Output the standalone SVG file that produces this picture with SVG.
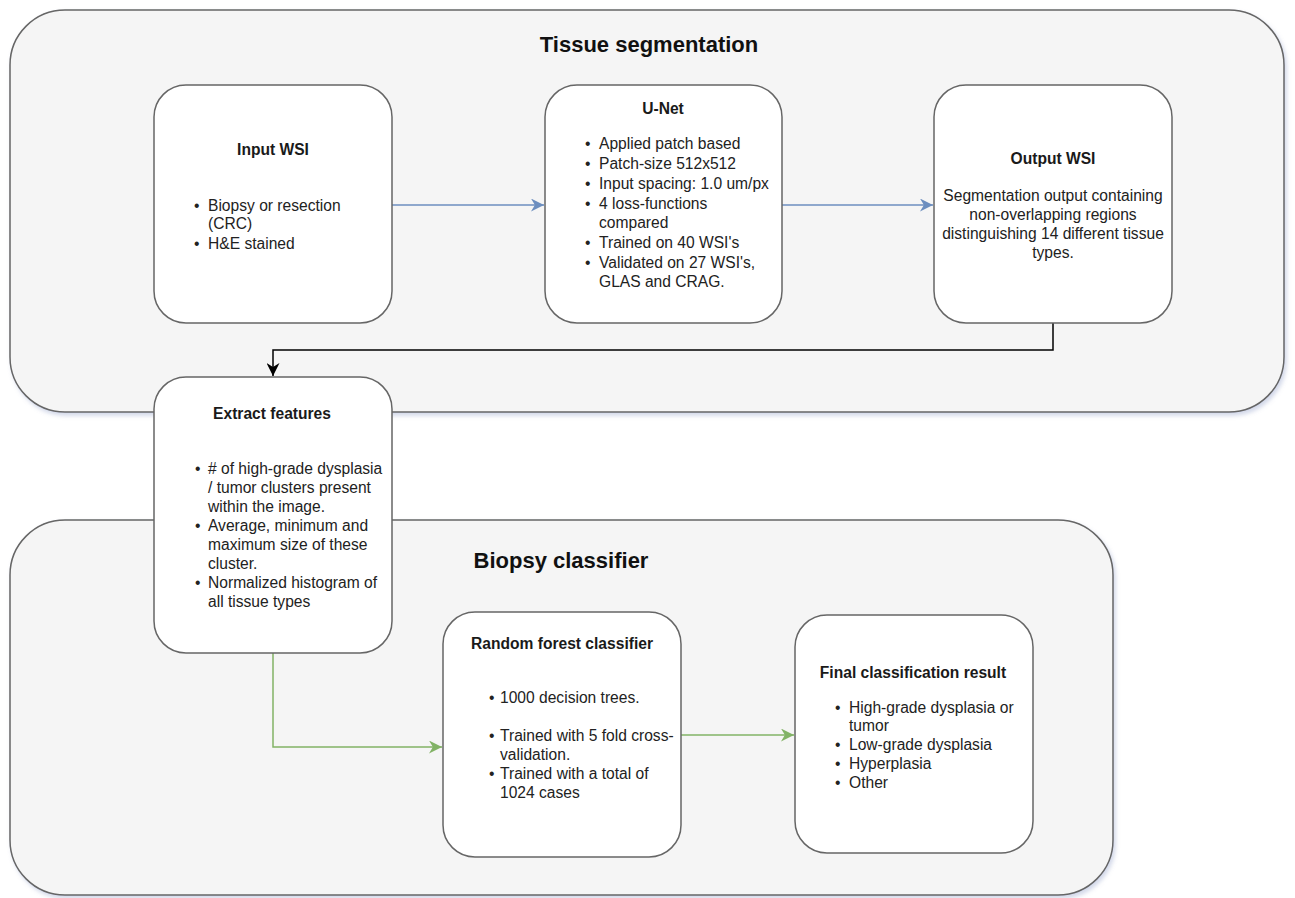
<svg xmlns="http://www.w3.org/2000/svg" width="1295" height="898" viewBox="0 0 1295 898">
<defs>
<style>
.cont{fill:#f5f5f5;stroke:#666;stroke-width:1.5}
.node{fill:#fff;stroke:#666;stroke-width:1.5}
.h1{font-family:"Liberation Sans",Arial,sans-serif;font-size:22px;font-weight:bold;fill:#111;text-anchor:middle}
.h2{font-family:"Liberation Sans",Arial,sans-serif;font-size:15.6px;font-weight:bold;fill:#1a1a1a;text-anchor:middle}
.t{font-family:"Liberation Sans",Arial,sans-serif;font-size:15.6px;fill:#222}
.c{text-anchor:middle}
.blue{fill:none;stroke:#6c8ebf;stroke-width:1.5}
.green{fill:none;stroke:#82b366;stroke-width:1.5}
.black{fill:none;stroke:#000;stroke-width:1.5}
</style>
<filter id="sh" x="-5%" y="-5%" width="110%" height="115%">
<feGaussianBlur in="SourceAlpha" stdDeviation="2"/>
<feOffset dx="2" dy="3" result="b"/>
<feFlood flood-color="#8090c0" flood-opacity="0.35"/>
<feComposite in2="b" operator="in"/>
<feMerge><feMergeNode/><feMergeNode in="SourceGraphic"/></feMerge>
</filter>
<marker id="ab" viewBox="0 0 10 10" refX="10" refY="5" markerWidth="13" markerHeight="13" markerUnits="userSpaceOnUse" orient="auto"><path d="M0,0 L10,5 L0,10 L3,5 Z" fill="#6c8ebf"/></marker>
<marker id="ag" viewBox="0 0 10 10" refX="10" refY="5" markerWidth="13" markerHeight="13" markerUnits="userSpaceOnUse" orient="auto"><path d="M0,0 L10,5 L0,10 L3,5 Z" fill="#82b366"/></marker>
<marker id="ak" viewBox="0 0 10 10" refX="10" refY="5" markerWidth="13" markerHeight="13" markerUnits="userSpaceOnUse" orient="auto"><path d="M0,0 L10,5 L0,10 L3,5 Z" fill="#000"/></marker>
</defs>
<rect width="1295" height="898" fill="#fff"/>

<g id="tissue-segmentation">
<rect class="cont" x="10" y="10" width="1274" height="402" rx="55" filter="url(#sh)"/>
<text class="h1" x="649" y="52">Tissue segmentation</text>
</g>
<g id="biopsy-classifier">
<rect class="cont" x="10" y="520" width="1103" height="375" rx="55" filter="url(#sh)"/>
<text class="h1" x="561" y="568">Biopsy classifier</text>
</g>

<g id="connectors">
<path class="blue" d="M392,205 H544" marker-end="url(#ab)"/>
<path class="blue" d="M782,205 H933" marker-end="url(#ab)"/>
<path class="black" d="M1053,323 V350 H273 V376" marker-end="url(#ak)"/>
<path class="green" d="M273,653 V747 H442" marker-end="url(#ag)"/>
<path class="green" d="M681,735 H794" marker-end="url(#ag)"/>
</g>

<g id="input-wsi">
<rect class="node" x="154" y="85" width="238" height="238" rx="32"/>
<text class="h2" x="273" y="155">Input WSI</text>
<text class="t"><tspan x="194" y="210.5">•</tspan><tspan x="208" y="210.5">Biopsy or resection</tspan><tspan x="208" y="229">(CRC)</tspan><tspan x="194" y="249">•</tspan><tspan x="208" y="249">H&amp;E stained</tspan></text>
</g>

<g id="u-net">
<rect class="node" x="545" y="85" width="237" height="238" rx="32"/>
<text class="h2" x="663" y="113.5">U-Net</text>
<text class="t"><tspan x="585" y="148.5">•</tspan><tspan x="599" y="148.5">Applied patch based</tspan><tspan x="585" y="168.5">•</tspan><tspan x="599" y="168.5">Patch-size 512x512</tspan><tspan x="585" y="188.5">•</tspan><tspan x="599" y="188.5">Input spacing: 1.0 um/px</tspan><tspan x="585" y="208.5">•</tspan><tspan x="599" y="208.5">4 loss-functions</tspan><tspan x="599" y="227.5">compared</tspan><tspan x="585" y="247.5">•</tspan><tspan x="599" y="247.5">Trained on 40 WSI's</tspan><tspan x="585" y="267.5">•</tspan><tspan x="599" y="267.5">Validated on 27 WSI's,</tspan><tspan x="599" y="286.5">GLAS and CRAG.</tspan></text>
</g>

<g id="output-wsi">
<rect class="node" x="934" y="85" width="238" height="238" rx="32"/>
<text class="h2" x="1053" y="163.5">Output WSI</text>
<text class="t c"><tspan x="1053" y="200.5">Segmentation output containing</tspan><tspan x="1053" y="219.5">non-overlapping regions</tspan><tspan x="1053" y="238.5">distinguishing 14 different tissue</tspan><tspan x="1053" y="257.5">types.</tspan></text>
</g>

<g id="extract-features">
<rect class="node" x="154" y="377" width="238" height="276" rx="32"/>
<text class="h2" x="272" y="418.5">Extract features</text>
<text class="t"><tspan x="195" y="473.5">•</tspan><tspan x="208" y="473.5"># of high-grade dysplasia</tspan><tspan x="208" y="492.5">/ tumor clusters present</tspan><tspan x="208" y="511.5">within the image.</tspan><tspan x="195" y="530.5">•</tspan><tspan x="208" y="530.5">Average, minimum and</tspan><tspan x="208" y="549.5">maximum size of these</tspan><tspan x="208" y="568.5">cluster.</tspan><tspan x="195" y="587.5">•</tspan><tspan x="208" y="587.5">Normalized histogram of</tspan><tspan x="208" y="606.5">all tissue types</tspan></text>
</g>

<g id="random-forest">
<rect class="node" x="443" y="612" width="238" height="245" rx="32"/>
<text class="h2" x="562" y="648.5">Random forest classifier</text>
<text class="t"><tspan x="489" y="702.5">•</tspan><tspan x="500" y="702.5">1000 decision trees.</tspan><tspan x="489" y="740.5">•</tspan><tspan x="500" y="740.5">Trained with 5 fold cross-</tspan><tspan x="500" y="759.5">validation.</tspan><tspan x="489" y="778.5">•</tspan><tspan x="500" y="778.5">Trained with a total of</tspan><tspan x="500" y="797.5">1024 cases</tspan></text>
</g>

<g id="final-classification">
<rect class="node" x="795" y="615" width="238" height="238" rx="32"/>
<text class="h2" x="913" y="677.5">Final classification result</text>
<text class="t"><tspan x="835" y="712.5">•</tspan><tspan x="849" y="712.5">High-grade dysplasia or</tspan><tspan x="849" y="731">tumor</tspan><tspan x="835" y="750">•</tspan><tspan x="849" y="750">Low-grade dysplasia</tspan><tspan x="835" y="769">•</tspan><tspan x="849" y="769">Hyperplasia</tspan><tspan x="835" y="788">•</tspan><tspan x="849" y="788">Other</tspan></text>
</g>
</svg>
